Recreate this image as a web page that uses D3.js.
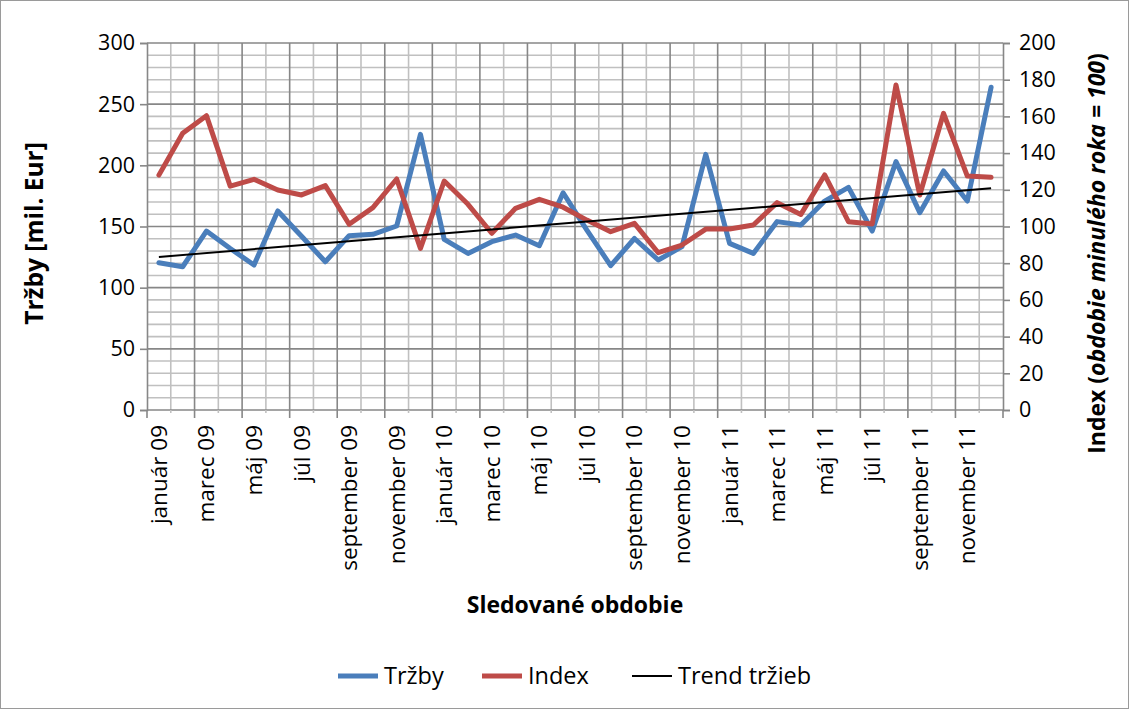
<!DOCTYPE html>
<html>
<head>
<meta charset="utf-8">
<script src="https://cdn.jsdelivr.net/npm/d3@7"></script>
<style>
  html, body { margin: 0; padding: 0; background: #fff; }
  svg { display: block; font-family: "Open Sans", "Noto Sans", sans-serif; }
</style>
</head>
<body>
<svg id="chart" width="1129" height="711"></svg>
<script>
// Months (one per category) and the labels shown under every second month
const months = [
  "január 09","február 09","marec 09","apríl 09","máj 09","jún 09","júl 09","august 09",
  "september 09","október 09","november 09","december 09",
  "január 10","február 10","marec 10","apríl 10","máj 10","jún 10","júl 10","august 10",
  "september 10","október 10","november 10","december 10",
  "január 11","február 11","marec 11","apríl 11","máj 11","jún 11","júl 11","august 11",
  "september 11","október 11","november 11","december 11"
];

// Sales in millions EUR (left axis)
const trzby = [
  120.4, 117.1, 146.3, 132.0, 118.5, 162.7, 142.0, 121.2, 142.5, 143.6, 150.4, 225.3,
  139.5, 128.0, 137.6, 143.0, 134.3, 177.6, 147.0, 118.0, 140.2, 122.6, 133.5, 209.0,
  136.2, 128.0, 154.0, 151.2, 170.8, 182.0, 146.3, 203.0, 161.3, 195.4, 170.8, 263.8
];

// Index vs. the same month of the previous year (right axis)
const indexVals = [
  128.0, 150.8, 160.4, 122.0, 125.7, 119.9, 117.2, 122.3, 101.2, 110.3, 125.9, 88.1,
  124.8, 112.1, 96.3, 109.9, 114.8, 110.5, 103.5, 97.2, 101.7, 85.7, 89.9, 98.6,
  98.6, 100.8, 113.0, 106.6, 128.1, 102.6, 101.4, 177.1, 117.2, 161.7, 127.5, 126.8
];

const leftTicks = [0, 50, 100, 150, 200, 250, 300];
const rightTicks = [0, 20, 40, 60, 80, 100, 120, 140, 160, 180, 200];

const svg = d3.select("#chart");
const W = 1129, H = 711;
const plot = { left: 147, right: 1003, top: 43, bottom: 410 };

// Chart area frame
svg.append("rect")
  .attr("x", 0.5).attr("y", 0.5).attr("width", W - 1).attr("height", H - 3)
  .attr("fill", "#fff").attr("stroke", "#9a9a9a").attr("stroke-width", 1);

const x = d3.scaleBand().domain(d3.range(months.length)).range([plot.left, plot.right]).padding(0);
const bw = x.bandwidth();
const cx = i => x(i) + bw / 2;
const yL = d3.scaleLinear().domain([0, 300]).range([plot.bottom, plot.top]);
const yR = d3.scaleLinear().domain([0, 200]).range([plot.bottom, plot.top]);

const MINOR = "#c0c0c0", MAJOR = "#878787";
const grid = svg.append("g");

// Minor horizontal grid every 10, major every 50
d3.range(10, 300, 10).filter(v => v % 50 !== 0).forEach(v => {
  grid.append("line").attr("x1", plot.left).attr("x2", plot.right)
    .attr("y1", yL(v)).attr("y2", yL(v))
    .attr("stroke", MINOR).attr("stroke-width", 1.6);
});
// Vertical grid on every category boundary (minor), every second boundary major
const bounds = d3.range(months.length + 1).map(k => plot.left + k * bw);
bounds.forEach((bx, k) => {
  if (k % 2 === 1) {
    grid.append("line").attr("x1", bx).attr("x2", bx)
      .attr("y1", plot.top).attr("y2", plot.bottom)
      .attr("stroke", MINOR).attr("stroke-width", 1.6);
  }
});
leftTicks.filter(v => v > 0).forEach(v => {
  grid.append("line").attr("x1", plot.left).attr("x2", plot.right)
    .attr("y1", yL(v)).attr("y2", yL(v))
    .attr("stroke", MAJOR).attr("stroke-width", 1.6);
});
bounds.forEach((bx, k) => {
  if (k % 2 === 0 && k > 0 && k < months.length) {
    grid.append("line").attr("x1", bx).attr("x2", bx)
      .attr("y1", plot.top).attr("y2", plot.bottom)
      .attr("stroke", MAJOR).attr("stroke-width", 1.6);
  }
});

// Left axis
const gL = svg.append("g").attr("transform", `translate(${plot.left},0)`)
  .call(d3.axisLeft(yL).tickValues(leftTicks).tickSize(7).tickPadding(5));
// Right axis
const gR = svg.append("g").attr("transform", `translate(${plot.right},0)`)
  .call(d3.axisRight(yR).tickValues(rightTicks).tickSize(7).tickPadding(9));
[gL, gR].forEach(g => {
  g.select(".domain").attr("stroke", MAJOR).attr("stroke-width", 1.6);
  g.selectAll(".tick line").attr("stroke", MAJOR).attr("stroke-width", 1.6);
  g.selectAll(".tick text").attr("fill", "#000").attr("font-size", 21.5)
    .attr("font-family", "'Open Sans', sans-serif");
});

// Bottom axis: tick marks on every second boundary, labels under every second month
const gB = svg.append("g");
gB.append("line").attr("x1", plot.left).attr("x2", plot.right)
  .attr("y1", plot.bottom).attr("y2", plot.bottom)
  .attr("stroke", MAJOR).attr("stroke-width", 1.6);
bounds.forEach((bx, k) => {
  gB.append("line").attr("x1", bx).attr("x2", bx)
    .attr("y1", plot.bottom).attr("y2", plot.bottom + (k % 2 === 0 ? 8 : 3))
    .attr("stroke", k % 2 === 0 ? MAJOR : MINOR).attr("stroke-width", 1.6);
});
months.forEach((m, i) => {
  if (i % 2 !== 0) return;
  gB.append("text")
    .attr("transform", `translate(${cx(i) + 8},${plot.bottom + 15}) rotate(-90)`)
    .attr("text-anchor", "end")
    .attr("font-size", 22.5)
    .attr("fill", "#000")
    .text(m);
});

// Lines
const lineL = d3.line().x((d, i) => cx(i)).y(d => yL(d));
const lineR = d3.line().x((d, i) => cx(i)).y(d => yR(d));

// Linear trend of the sales series (least squares)
const n = trzby.length;
const mx = d3.mean(d3.range(n)), my = d3.mean(trzby);
const slope = d3.sum(trzby, (v, i) => (i - mx) * (v - my)) / d3.sum(d3.range(n), i => (i - mx) ** 2);
const intercept = my - slope * mx;
const trend = [0, n - 1].map(i => ({ i, v: intercept + slope * i }));

svg.append("path").datum(trzby).attr("d", lineL)
  .attr("fill", "none").attr("stroke", "#4a7ebb").attr("stroke-width", 5)
  .attr("stroke-linejoin", "round").attr("stroke-linecap", "round");
svg.append("path").datum(indexVals).attr("d", lineR)
  .attr("fill", "none").attr("stroke", "#be4b48").attr("stroke-width", 5)
  .attr("stroke-linejoin", "round").attr("stroke-linecap", "round");
svg.append("path").datum(trend)
  .attr("d", d3.line().x(d => cx(d.i)).y(d => yL(d.v)))
  .attr("fill", "none").attr("stroke", "#000").attr("stroke-width", 2);

// Axis titles
svg.append("text")
  .attr("transform", `translate(43,${(plot.top + plot.bottom) / 2 + 7}) rotate(-90)`)
  .attr("text-anchor", "middle").attr("font-size", 24.5).attr("font-weight", "bold")
  .text("Tržby [mil. Eur]");

const rt = svg.append("text")
  .attr("transform", `translate(1105,${(plot.top + plot.bottom) / 2 + 27}) rotate(-90)`)
  .attr("text-anchor", "middle").attr("font-size", 23).attr("font-weight", "bold");
rt.append("tspan").text("Index (");
rt.append("tspan").attr("font-style", "italic").text("obdobie minulého roka = 100");
rt.append("tspan").text(")");

svg.append("text")
  .attr("x", 575).attr("y", 613)
  .attr("text-anchor", "middle").attr("font-size", 23).attr("font-weight", "bold")
  .text("Sledované obdobie");

// Legend
const legend = [
  { label: "Tržby", color: "#4a7ebb", w: 5, x: 338 },
  { label: "Index", color: "#be4b48", w: 5, x: 482 },
  { label: "Trend tržieb", color: "#000", w: 2, x: 632 }
];
const lg = svg.append("g");
legend.forEach(d => {
  lg.append("line").attr("x1", d.x).attr("x2", d.x + 40)
    .attr("y1", 676).attr("y2", 676)
    .attr("stroke", d.color).attr("stroke-width", d.w);
  lg.append("text").attr("x", d.x + 46).attr("y", 684)
    .attr("font-size", 23.5).attr("fill", "#000").text(d.label);
});
</script>
</body>
</html>
